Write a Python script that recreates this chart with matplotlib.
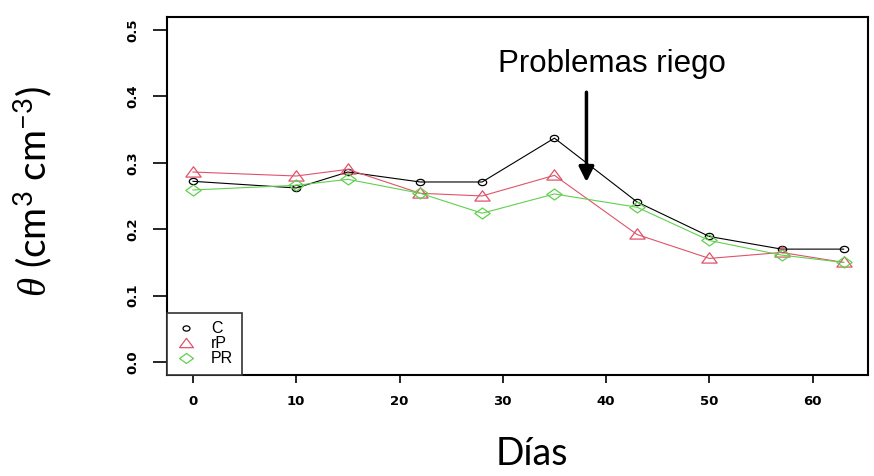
import matplotlib
matplotlib.use("Agg")
import matplotlib.pyplot as plt
from matplotlib.path import Path
from matplotlib.transforms import Affine2D

dias = [0, 10, 15, 22, 28, 35, 43, 50, 57, 63]
C  = [0.272, 0.262, 0.286, 0.271, 0.271, 0.337, 0.241, 0.189, 0.170, 0.170]
rP = [0.286, 0.280, 0.290, 0.254, 0.250, 0.281, 0.192, 0.156, 0.165, 0.150]
PR = [0.259, 0.266, 0.275, 0.254, 0.224, 0.253, 0.233, 0.183, 0.161, 0.150]
series_names = ["C", "rP", "PR"]
xticks = [0, 10, 20, 30, 40, 50, 60]
yticks = [0.0, 0.1, 0.2, 0.3, 0.4, 0.5]

plt.rcParams['mathtext.fontset'] = 'custom'
plt.rcParams['mathtext.rm'] = 'Lato'
plt.rcParams['mathtext.it'] = 'Liberation Serif:italic'

fig = plt.figure(figsize=(8.74, 4.76), dpi=100)
ax = fig.add_axes([0.191, 0.212, 0.802, 0.752])

diamond = Path([(-1, 0), (0, 0.72), (1, 0), (0, -0.72), (-1, 0)],
               [Path.MOVETO, Path.LINETO, Path.LINETO, Path.LINETO, Path.CLOSEPOLY])
tri = Path([(-1, -0.6), (1, -0.6), (0, 0.75), (-1, -0.6)],
           [Path.MOVETO, Path.LINETO, Path.LINETO, Path.CLOSEPOLY])
circ = Path.unit_circle().transformed(Affine2D().scale(1.0, 0.75))

cols = ["black", "#DF536B", "#61D04F"]
marks = [circ, tri, diamond]
msz = [6, 11, 11]
for vals, name, c, m, s in zip([C, rP, PR], series_names, cols, marks, msz):
    ax.plot(dias, vals, color=c, lw=0.8, marker=m, ms=s, mfc='none',
            mec=c, mew=0.9, label=name)

ax.set_xlim(-2.52, 65.35)
ax.set_ylim(-0.0195, 0.519)
ax.set_xticks(xticks)
ax.set_yticks(yticks)
ax.set_xticklabels([str(v) for v in xticks], fontfamily='DejaVu Sans',
                   fontweight='bold', fontsize=9.5)
ax.set_yticklabels([f"{v:.1f}" for v in yticks], fontfamily='DejaVu Sans',
                   fontweight='bold', fontsize=9.5, rotation=90, va='center')
ax.tick_params(axis='x', length=6, width=1.2, pad=8)
ax.tick_params(axis='y', length=10, width=1.2, pad=10)
for sp in ax.spines.values():
    sp.set_linewidth(1.5)

leg = ax.legend(loc='lower left', bbox_to_anchor=(0, 0), borderaxespad=0,
                prop={'family': 'Liberation Sans', 'size': 11.5},
                fancybox=False, edgecolor='#333333', framealpha=1,
                handlelength=1.3, handletextpad=0.9, labelspacing=0.0,
                borderpad=0.55)
for h in leg.legend_handles:
    h.set_linestyle('none')
leg.legend_handles[0].set_markersize(5)
leg.legend_handles[1].set_markersize(10)
leg.legend_handles[2].set_markersize(10)
leg.get_frame().set_linewidth(1.2)

ax.annotate("", xy=(38.1, 0.271), xytext=(38.1, 0.406),
            arrowprops=dict(arrowstyle='-|>,head_length=0.9,head_width=0.45',
                            color='black', lw=2.5, shrinkA=0, shrinkB=0))
ax.text(40.6, 0.448, "Problemas riego", fontfamily='Liberation Sans',
        fontsize=22.5, ha='center', va='center')

fig.text(0.608, 0.047, "Días", fontfamily='Lato', fontsize=27,
         ha='center', va='center')
fig.text(0.038, 0.597, r"$\mathit{\theta}$ (cm$^{3}$ cm$^{-3}$)", fontfamily='Lato',
         fontsize=28, rotation=90, ha='center', va='center')

fig.savefig("out.png", dpi=100)
